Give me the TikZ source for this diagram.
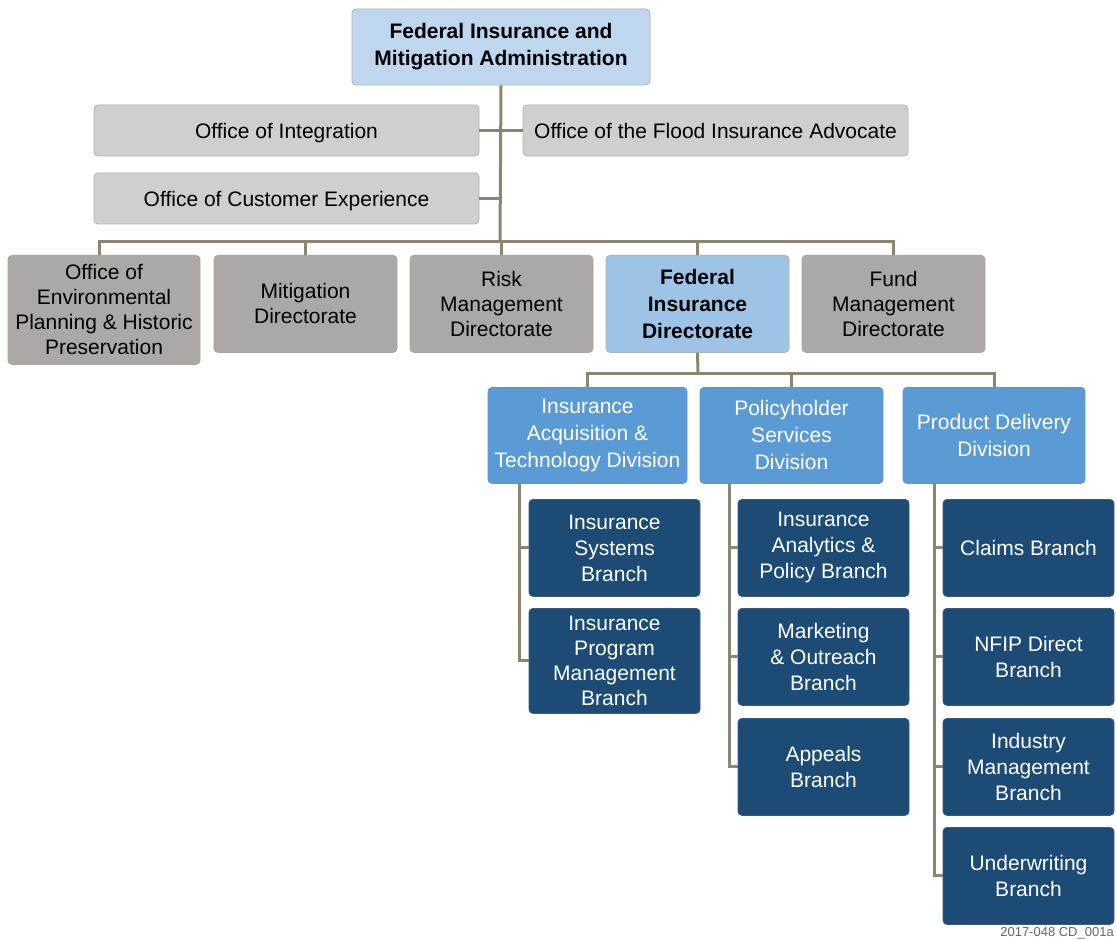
\documentclass[tikz,border=0pt]{standalone}
\usepackage{fontspec}
\setmainfont{Liberation Sans}
\begin{document}
\begin{tikzpicture}[x=1pt,y=-1pt,
  box/.style={rounded corners=4pt, inner sep=0pt, align=center, font=\fontsize{21}{26}\selectfont, line width=0.8pt},
  topbox/.style={box, fill=topblue, draw=gray!60, font=\bfseries\fontsize{21}{27}\selectfont},
  lgbox/.style={box, fill=lgray, draw=gray!60, text depth=0pt},
  dgbox/.style={box, fill=dgray, draw=gray!70, font=\fontsize{21}{25}\selectfont},
  fidbox/.style={box, fill=fidblue, draw=gray!60, font=\bfseries\fontsize{21}{27}\selectfont},
  divbox/.style={box, fill=divblue, draw=divblue!80!gray, text=white, font=\fontsize{21}{27}\selectfont},
  brbox/.style={box, fill=brblue, draw=brblue!70!gray, text=white, font=\fontsize{21}{26}\selectfont},
  conn/.style={draw=connc, line width=3pt}
]
\definecolor{topblue}{RGB}{190,215,238}
\definecolor{lgray}{RGB}{208,206,206}
\definecolor{dgray}{RGB}{171,168,166}
\definecolor{fidblue}{RGB}{157,195,230}
\definecolor{divblue}{RGB}{91,155,213}
\definecolor{brblue}{RGB}{28,76,118}
\definecolor{connc}{RGB}{140,134,112}
\useasboundingbox[fill=white] (0,0) rectangle (1116,941);

% coordinates
\coordinate (bus) at (500,242);
\coordinate (e0) at (99,255);
\coordinate (dbus) at (698,373);
\coordinate (s1) at (519,483);
\coordinate (s2) at (729,483);
\coordinate (s3) at (934,483);

% nodes
\node[topbox, minimum width=298pt, minimum height=76pt] (top) at (501,47) {Federal Insurance and\\Mitigation Administration};
\node[lgbox, minimum width=385pt, minimum height=51pt] (oi) at (286.5,130.5) {Office of Integration};
\node[lgbox, minimum width=385pt, minimum height=51pt] (fa) at (715.5,130.5) {Office of the Flood Insurance Advocate};
\node[lgbox, minimum width=385pt, minimum height=51pt] (oc) at (286.5,198.5) {Office of Customer Experience};

\node[dgbox, minimum width=192pt, minimum height=109pt, anchor=north] (oe) at (104,255) {Office of\\Environmental\\Planning \& Historic\\Preservation};
\node[dgbox, minimum width=183pt, minimum height=97pt, anchor=north] (mi) at (305.5,255) {Mitigation\\Directorate};
\node[dgbox, minimum width=183pt, minimum height=97pt, anchor=north] (ri) at (501.5,255) {Risk\\Management\\Directorate};
\node[fidbox, minimum width=183pt, minimum height=97pt, anchor=north] (fid) at (697.5,255) {Federal\\Insurance\\Directorate};
\node[dgbox, minimum width=183pt, minimum height=97pt, anchor=north] (fu) at (893.5,255) {Fund\\Management\\Directorate};

\node[divbox, minimum width=199pt, minimum height=96pt, anchor=north] (d1) at (587.5,387) {Insurance\\Acquisition \&\\Technology Division};
\node[divbox, minimum width=183pt, minimum height=96pt, anchor=north] (d2) at (791.5,387) {Policyholder\\Services\\Division};
\node[divbox, minimum width=182pt, minimum height=96pt, anchor=north] (d3) at (994,387) {Product Delivery\\Division};

\node[brbox, minimum width=171pt, minimum height=97pt, anchor=north] (b11) at (614.5,499) {Insurance\\Systems\\Branch};
\node[brbox, minimum width=171pt, minimum height=105pt, anchor=north, font=\fontsize{21}{25}\selectfont] (b12) at (614.5,608) {Insurance\\Program\\Management\\Branch};

\node[brbox, minimum width=171pt, minimum height=97pt, anchor=north] (b21) at (823.5,499) {Insurance\\Analytics \&\\Policy Branch};
\node[brbox, minimum width=171pt, minimum height=97pt, anchor=north] (b22) at (823.5,608) {Marketing\\\& Outreach\\Branch};
\node[brbox, minimum width=171pt, minimum height=97pt, anchor=north] (b23) at (823.5,718) {Appeals\\Branch};

\node[brbox, minimum width=171pt, minimum height=97pt, anchor=north] (b31) at (1028.5,499) {Claims Branch};
\node[brbox, minimum width=171pt, minimum height=97pt, anchor=north] (b32) at (1028.5,608) {NFIP Direct\\Branch};
\node[brbox, minimum width=171pt, minimum height=97pt, anchor=north] (b33) at (1028.5,718) {Industry\\Management\\Branch};
\node[brbox, minimum width=171pt, minimum height=97pt, anchor=north] (b34) at (1028.5,827) {Underwriting\\Branch};

\node[anchor=south east, inner sep=0pt, text=black!60, font=\fontsize{13}{15}\selectfont] (foot) at (1114,939) {2017-048 CD\_001a};

% connectors
\draw[conn] (top.south) -- (bus);
\draw[conn] (oi.east) -- (oi.east -| bus);
\draw[conn] (fa.west) -- (fa.west -| bus);
\draw[conn] (oc.east) -- (oc.east -| bus);
\draw[conn] (e0) |- (bus) -| (fu.north);
\draw[conn] (mi.north) -- (mi.north |- bus);
\draw[conn] (ri.north) -- (ri.north |- bus);
\draw[conn] (fid.north) -- (fid.north |- bus);

\draw[conn] (fid.south) -- (dbus);
\draw[conn] (d1.north) |- (dbus) -| (d3.north);
\draw[conn] (d2.north) -- (d2.north |- dbus);

\draw[conn] (s1) |- (b12.west);
\draw[conn] (b11.west) -- (b11.west -| s1);
\draw[conn] (s2) |- (b23.west);
\draw[conn] (b21.west) -- (b21.west -| s2);
\draw[conn] (b22.west) -- (b22.west -| s2);
\draw[conn] (s3) |- (b34.west);
\draw[conn] (b31.west) -- (b31.west -| s3);
\draw[conn] (b32.west) -- (b32.west -| s3);
\draw[conn] (b33.west) -- (b33.west -| s3);
\end{tikzpicture}
\end{document}
